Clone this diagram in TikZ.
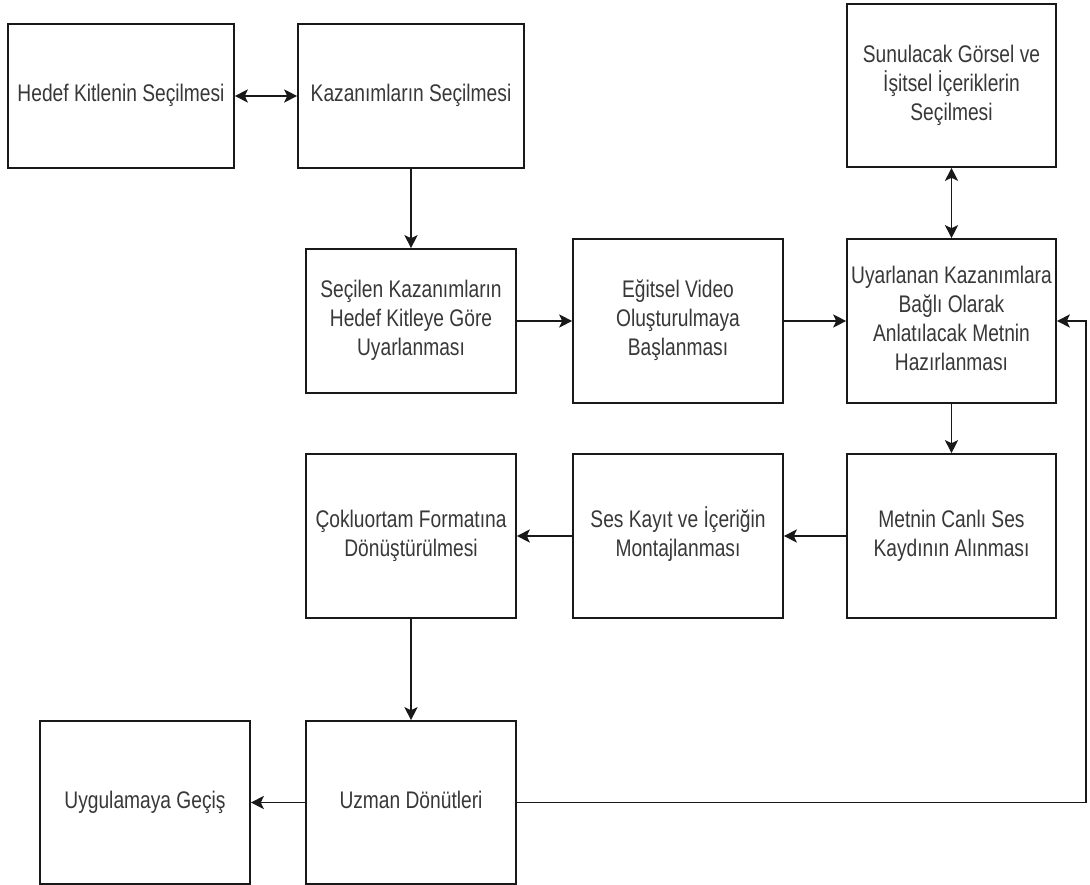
\documentclass[tikz,border=0pt]{standalone}
\usepackage{fontspec}
\usepackage{graphicx}
\setmainfont{Liberation Sans}
\usetikzlibrary{arrows.meta,calc}

\definecolor{labeltext}{rgb}{0.22,0.22,0.22}
\definecolor{edge}{rgb}{0.1,0.1,0.1}

% tall, slightly condensed centred label
\newcommand{\boxlabel}[1]{\scalebox{0.8}[1]{\begin{tabular}{@{}c@{}}#1\end{tabular}}}

\begin{document}
\begin{tikzpicture}[x=1pt,y=-1pt,
  stepbox/.style={draw=edge, line width=1.6pt, fill=white, inner sep=0pt,
    text=labeltext, font=\fontsize{24}{29}\selectfont},
  tip/.style={Stealth[length=13pt,width=13pt,inset=3pt]},
  arr/.style={draw=edge, line width=1.6pt, -{Stealth[length=13pt,width=13pt,inset=3pt]}},
  darr/.style={draw=edge, line width=1.6pt,
    {Stealth[length=13pt,width=13pt,inset=3pt]}-{Stealth[length=13pt,width=13pt,inset=3pt]}}
]
\renewcommand{\arraystretch}{1}
\useasboundingbox[fill=white] (0,0) rectangle (1090,885);

% top row
\node[stepbox, minimum width=226, minimum height=144] (hedef) at (121,96)
  {\boxlabel{Hedef Kitlenin Seçilmesi}};
\node[stepbox, minimum width=226, minimum height=144] (kazanim) at (411,96)
  {\boxlabel{Kazanımların Seçilmesi}};
\node[stepbox, minimum width=209, minimum height=163] (sunulacak) at (951.5,85.5)
  {\boxlabel{Sunulacak Görsel ve\\İşitsel İçeriklerin\\Seçilmesi}};

% second row
\node[stepbox, minimum width=210, minimum height=144] (secilen) at (411,321)
  {\boxlabel{Seçilen Kazanımların\\Hedef Kitleye Göre\\Uyarlanması}};
\node[stepbox, minimum width=210, minimum height=164] (egitsel) at (678,321)
  {\boxlabel{Eğitsel Video\\Oluşturulmaya\\Başlanması}};
\node[stepbox, minimum width=209, minimum height=164] (metin) at (951.5,321)
  {\boxlabel{Uyarlanan Kazanımlara\\Bağlı Olarak\\Anlatılacak Metnin\\Hazırlanması}};

% third row
\node[stepbox, minimum width=210, minimum height=164] (cokluortam) at (411,536)
  {\boxlabel{Çokluortam Formatına\\Dönüştürülmesi}};
\node[stepbox, minimum width=210, minimum height=164] (montaj) at (678,536)
  {\boxlabel{Ses Kayıt ve İçeriğin\\Montajlanması}};
\node[stepbox, minimum width=209, minimum height=164] (kayit) at (951.5,536)
  {\boxlabel{Metnin Canlı Ses\\Kaydının Alınması}};

% bottom row
\node[stepbox, minimum width=210, minimum height=163] (uygulama) at (145,802.5)
  {\boxlabel{Uygulamaya Geçiş}};
\node[stepbox, minimum width=210, minimum height=163] (uzman) at (411,802.5)
  {\boxlabel{Uzman Dönütleri}};

% feedback line runs up the right margin
\coordinate (rail) at (1086,0);

% connectors
\draw[darr] (hedef.east) -- (kazanim.west);
\draw[arr] (kazanim.south) -- (secilen.north);
\draw[arr] (secilen.east) -- (egitsel.west);
\draw[arr] (egitsel.east) -- (metin.west);
\draw[darr] (metin.north) -- (sunulacak.south);
\draw[arr] (metin.south) -- (kayit.north);
\draw[arr] (kayit.west) -- (montaj.east);
\draw[arr] (montaj.west) -- (cokluortam.east);
\draw[arr] (cokluortam.south) -- (uzman.north);
\draw[arr] (uzman.west) -- (uygulama.east);
\draw[arr] (uzman.east) -- (uzman.east -| rail) |- (metin.east);
\end{tikzpicture}
\end{document}
